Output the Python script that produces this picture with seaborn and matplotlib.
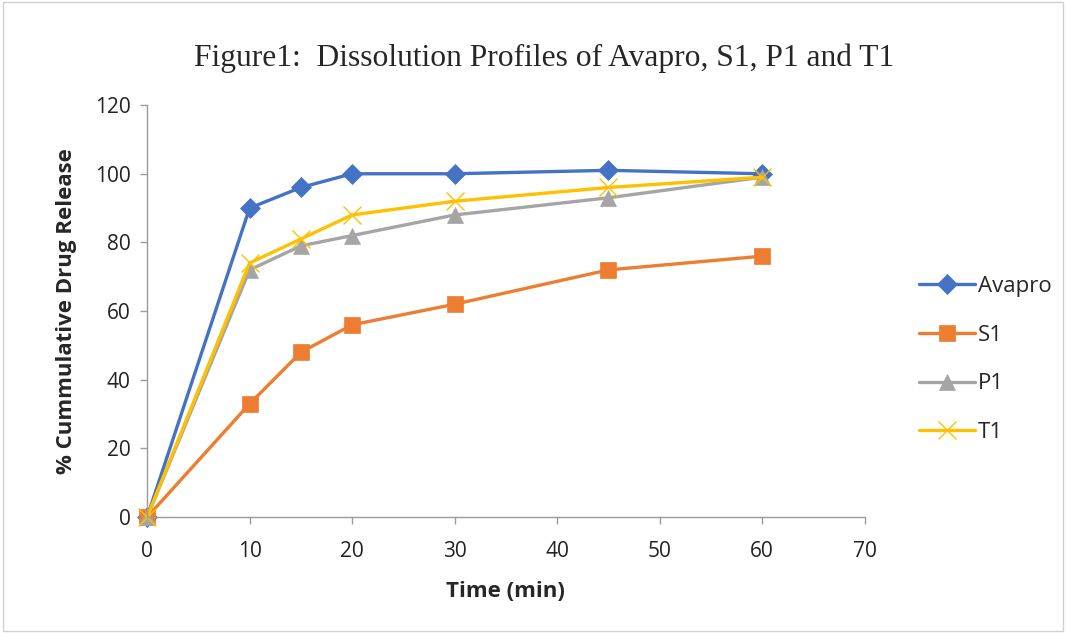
import pandas as pd
import matplotlib
matplotlib.use("Agg")
import matplotlib.pyplot as plt
import seaborn as sns

# dissolution data
time_min = [0, 10, 15, 20, 30, 45, 60]
avapro = [0, 90, 96, 100, 100, 101, 100]
s1 = [0, 33, 48, 56, 62, 72, 76]
p1 = [0, 72, 79, 82, 88, 93, 99]
t1 = [0, 74, 81, 88, 92, 96, 99]

series_names = ["Avapro", "S1", "P1", "T1"]
series_vals = [avapro, s1, p1, t1]
colors = ["#4472C4", "#ED7D31", "#A5A5A5", "#FFC000"]
markers = ["D", "s", "^", "x"]
msizes = [10, 11, 11, 13]

x_ticks = [0, 10, 20, 30, 40, 50, 60, 70]
y_ticks = [0, 20, 40, 60, 80, 100, 120]


def build_df():
    rows = []
    for name, vals in zip(series_names, series_vals):
        for t, v in zip(time_min, vals):
            rows.append({"Time": t, "Release": v, "Series": name})
    return pd.DataFrame(rows)


def plot(df):
    sns.set_style("white")
    plt.rcParams['font.family'] = ['Open Sans', 'DejaVu Sans']

    fig = plt.figure(figsize=(10.66, 6.33), dpi=100)
    ax = fig.add_axes([0.138, 0.183, 0.673, 0.651])

    for name, col, mk, ms in zip(series_names, colors, markers, msizes):
        sub = df[df.Series == name]
        sns.lineplot(data=sub, x="Time", y="Release", ax=ax, color=col,
                     marker=mk, markersize=ms, linewidth=2.4, label=name,
                     markeredgecolor=col, markeredgewidth=1.0 if mk == "x" else 0.5)

    ax.set_xlim(0, 70)
    ax.set_ylim(0, 120)
    ax.set_xticks(x_ticks)
    ax.set_yticks(y_ticks)
    ax.tick_params(axis="both", labelsize=15, length=5, width=1,
                   color="#9a9a9a", direction="out", bottom=True, left=True,
                   labelcolor="#222222")
    ax.tick_params(axis="y", pad=7)
    ax.tick_params(axis="x", pad=12)
    for s in ["top", "right"]:
        ax.spines[s].set_visible(False)
    for s in ["left", "bottom"]:
        ax.spines[s].set_color("#9a9a9a")
        ax.spines[s].set_linewidth(1)
    for ln in ax.lines:
        ln.set_clip_on(False)

    ax.set_xlabel("Time (min)", fontsize=16, fontweight="bold", labelpad=14)
    ax.set_ylabel("% Cummulative Drug Release", fontsize=16,
                  fontweight="bold", labelpad=13)

    fig.text(0.510, 0.908, "Figure1:  Dissolution Profiles of Avapro, S1, P1 and T1",
             ha="center", va="center", fontsize=22.7, family="Liberation Serif")

    handles, labels = ax.get_legend_handles_labels()
    ax.get_legend().remove()
    fig.legend(handles, labels, loc="center left", bbox_to_anchor=(0.852, 0.432),
               bbox_transform=fig.transFigure, frameon=False, borderpad=0,
               fontsize=16, handlelength=2.5, labelspacing=1.25, handletextpad=0.15)

    border = plt.Rectangle((0.003, 0.003), 0.994, 0.994, transform=fig.transFigure,
                           fill=False, edgecolor="#d0d0d0", linewidth=1)
    fig.patches.append(border)

    fig.savefig("out.png", dpi=100)


if __name__ == "__main__":
    df = build_df()
    plot(df)
